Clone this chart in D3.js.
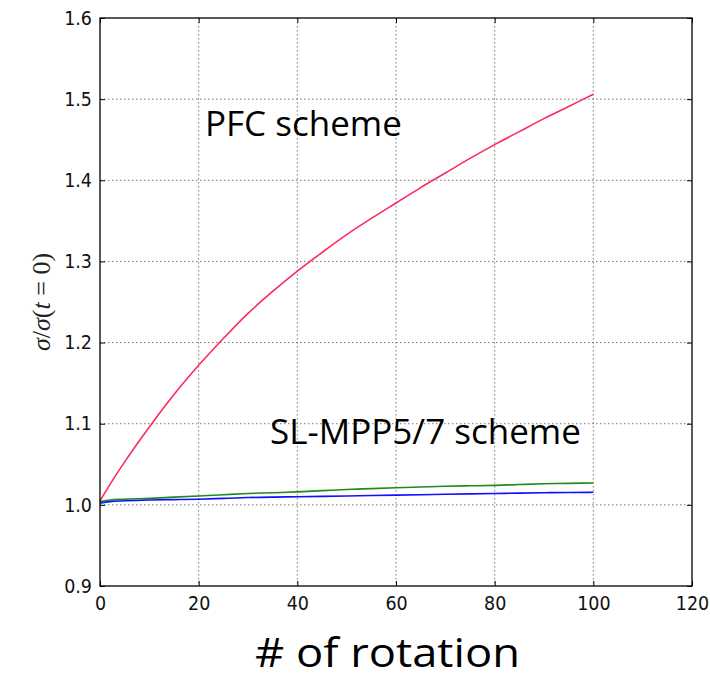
<!DOCTYPE html>
<html>
<head>
<meta charset="utf-8">
<script src="https://cdn.jsdelivr.net/npm/d3@7"></script>
<style>
  html, body { margin: 0; padding: 0; background: #fff; }
  svg { display: block; }
</style>
</head>
<body>
<svg id="chart" width="710" height="678"></svg>
<script>
// Rotation count (x) sampled for every curve
const rotations = [0, 2, 5, 10, 15, 20, 25, 30, 35, 40, 45, 50, 55, 60, 65, 70, 75, 80, 85, 90, 95, 100];

// Normalised width sigma / sigma(t=0) per scheme
const pfcValues = [1.005, 1.025, 1.053, 1.096, 1.136, 1.172, 1.205, 1.236, 1.263, 1.288, 1.311,
                   1.333, 1.353, 1.372, 1.391, 1.409, 1.427, 1.444, 1.460, 1.476, 1.491, 1.506];
const mpp7Values = [1.004, 1.006, 1.007, 1.008, 1.0095, 1.011, 1.0125, 1.014, 1.015, 1.016, 1.0175,
                    1.019, 1.020, 1.021, 1.022, 1.023, 1.0235, 1.024, 1.025, 1.026, 1.0265, 1.027];
const mpp5Values = [1.002, 1.004, 1.005, 1.006, 1.0065, 1.007, 1.008, 1.009, 1.0095, 1.010, 1.0105,
                    1.011, 1.0115, 1.012, 1.0125, 1.013, 1.0135, 1.014, 1.0145, 1.015, 1.0152, 1.0155];

const xTicks = [0, 20, 40, 60, 80, 100, 120];
const yTicks = [0.9, 1.0, 1.1, 1.2, 1.3, 1.4, 1.5, 1.6];
const xTickLabels = ["0", "20", "40", "60", "80", "100", "120"];
const yTickLabels = ["0.9", "1.0", "1.1", "1.2", "1.3", "1.4", "1.5", "1.6"];

const svg = d3.select("#chart");
const plot = { left: 100, right: 692, top: 18, bottom: 586 };

const x = d3.scaleLinear().domain([0, 120]).range([plot.left, plot.right]);
const y = d3.scaleLinear().domain([0.9, 1.6]).range([plot.bottom, plot.top]);

const tickFont = "'DejaVu Sans', sans-serif";

// Dotted grid
const grid = svg.append("g").attr("stroke", "#555").attr("stroke-width", 0.8)
  .attr("stroke-dasharray", "1.5,2.5");
grid.selectAll("line.gx").data(xTicks.slice(1, -1)).join("line")
  .attr("x1", d => x(d)).attr("x2", d => x(d))
  .attr("y1", plot.top).attr("y2", plot.bottom);
grid.selectAll("line.gy").data(yTicks.slice(1, -1)).join("line")
  .attr("y1", d => y(d)).attr("y2", d => y(d))
  .attr("x1", plot.left).attr("x2", plot.right);

// Curves
const line = d3.line().x((d, i) => x(rotations[i])).y(d => y(d)).curve(d3.curveMonotoneX);
const series = [
  { values: pfcValues, color: "#ff2a5c" },
  { values: mpp7Values, color: "#1f8a1f" },
  { values: mpp5Values, color: "#1010ff" }
];
svg.append("g").selectAll("path").data(series).join("path")
  .attr("d", d => line(d.values))
  .attr("fill", "none")
  .attr("stroke", d => d.color)
  .attr("stroke-width", 1.6);

// Axes with inward ticks on all four sides
const tickLen = 5;
const bottomAxis = d3.axisBottom(x).tickValues(xTicks).tickSizeInner(-tickLen).tickSizeOuter(0)
  .tickPadding(9).tickFormat((d, i) => xTickLabels[i]);
const leftAxis = d3.axisLeft(y).tickValues(yTicks).tickSizeInner(-tickLen).tickSizeOuter(0)
  .tickPadding(8).tickFormat((d, i) => yTickLabels[i]);
const topAxis = d3.axisTop(x).tickValues(xTicks).tickSizeInner(-tickLen).tickSizeOuter(0).tickFormat("");
const rightAxis = d3.axisRight(y).tickValues(yTicks).tickSizeInner(-tickLen).tickSizeOuter(0).tickFormat("");

function styleAxis(g) {
  g.select(".domain").remove();
  g.selectAll(".tick line").attr("stroke", "#000").attr("stroke-width", 1);
  g.selectAll("text")
    .attr("font-family", tickFont).attr("font-size", 17.5).attr("fill", "#111")
    .attr("transform", "scale(1,1.1)");
}
svg.append("g").attr("transform", `translate(0,${plot.bottom})`).call(bottomAxis).call(styleAxis);
svg.append("g").attr("transform", `translate(${plot.left},0)`).call(leftAxis).call(styleAxis);
svg.append("g").attr("transform", `translate(0,${plot.top})`).call(topAxis).call(styleAxis);
svg.append("g").attr("transform", `translate(${plot.right},0)`).call(rightAxis).call(styleAxis);

// Frame
svg.append("rect")
  .attr("x", plot.left).attr("y", plot.top)
  .attr("width", plot.right - plot.left).attr("height", plot.bottom - plot.top)
  .attr("fill", "none").attr("stroke", "#000").attr("stroke-width", 1.3);

// Y axis label: sigma / sigma(t = 0)
const yLab = svg.append("text")
  .attr("transform", `translate(50,302) rotate(-90)`)
  .attr("text-anchor", "middle")
  .attr("font-family", "'Liberation Serif', 'DejaVu Serif', serif")
  .attr("font-size", 26)
  .attr("fill", "#222");
yLab.append("tspan").attr("font-style", "italic").text("σ");
yLab.append("tspan").text("/");
yLab.append("tspan").attr("font-style", "italic").text("σ");
yLab.append("tspan").text("(");
yLab.append("tspan").attr("font-style", "italic").text("t");
yLab.append("tspan").text(" = 0)");

// Annotations
const noteFont = "'Open Sans', 'Noto Sans', sans-serif";
svg.append("text").attr("x", 205).attr("y", 136)
  .attr("font-family", noteFont).attr("font-size", 35).attr("fill", "#000")
  .text("PFC scheme");
svg.append("text").attr("x", 270).attr("y", 444)
  .attr("font-family", noteFont).attr("font-size", 35).attr("fill", "#000")
  .text("SL-MPP5/7 scheme");
svg.append("text").attr("x", 255).attr("y", 667)
  .attr("font-family", noteFont).attr("font-size", 41).attr("fill", "#000")
  .attr("textLength", 265).attr("lengthAdjust", "spacingAndGlyphs")
  .text("# of rotation");
</script>
</body>
</html>
